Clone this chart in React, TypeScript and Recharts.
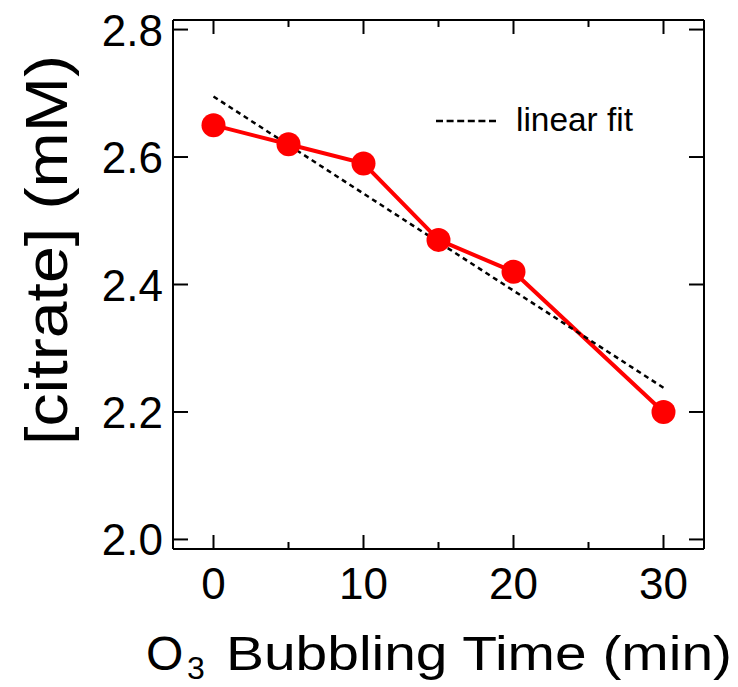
import { ComposedChart, Line, XAxis, YAxis } from 'recharts';

// measured points
const times = [0, 5, 10, 15, 20, 30];
const citrate = [2.65, 2.62, 2.59, 2.47, 2.42, 2.2];

// dashed fit line, read at its two ends
const fitTimes = [0, 30];
const fitValues = [2.695, 2.238];

const xTicks = [0, 5, 10, 15, 20, 25, 30];
const yTicks = [2.0, 2.2, 2.4, 2.6, 2.8];

const FONT = 'Liberation Sans, Arial, sans-serif';

const data = times.map((t, i) => ({ t, c: citrate[i] }));
const fitData = fitTimes.map((t, i) => ({ t, c: fitValues[i] }));

function BottomTick({ x, y, payload }: any) {
  const major = payload.value % 10 === 0;
  return (
    <g>
      <line x1={x} x2={x} y1={y} y2={y - (major ? 14 : 7)} stroke="#000" strokeWidth={2} />
      {major && (
        <text x={x} y={y + 50} textAnchor="middle" fontSize={44} fontFamily={FONT} fill="#000">
          {payload.value}
        </text>
      )}
    </g>
  );
}

function TopTick({ x, y, payload }: any) {
  const major = payload.value % 10 === 0;
  return <line x1={x} x2={x} y1={y} y2={y + (major ? 14 : 7)} stroke="#000" strokeWidth={2} />;
}

function LeftTick({ x, y, payload }: any) {
  return (
    <g>
      <line x1={x} x2={x + 15} y1={y} y2={y} stroke="#000" strokeWidth={2} />
      <text
        x={x - 10}
        y={y + 16}
        textAnchor="end"
        fontSize={44}
        fontFamily={FONT}
        fill="#000"
      >
        {payload.value.toFixed(1)}
      </text>
    </g>
  );
}

function RightTick({ x, y }: any) {
  return <line x1={x} x2={x - 15} y1={y} y2={y} stroke="#000" strokeWidth={2} />;
}

function Annotations() {
  return (
    <g fontFamily={FONT} fill="#000">
      {/* y title */}
      <text
        x={67}
        y={250}
        transform="rotate(-90, 67, 250)"
        textAnchor="middle"
        fontSize={60}
        textLength={390}
        lengthAdjust="spacingAndGlyphs"
      >
        [citrate] (mM)
      </text>
      {/* x title with subscript */}
      <text x={146} y={670} fontSize={48}>O</text>
      <text x={187} y={679} fontSize={32}>3</text>
      <text x={226} y={670} fontSize={48} textLength={506} lengthAdjust="spacingAndGlyphs">
        Bubbling Time (min)
      </text>
      {/* legend */}
      <line x1={436} x2={497} y1={121} y2={121} stroke="#000" strokeWidth={2.5} strokeDasharray="7 3.6" />
      <text x={516} y={131} fontSize={34} textLength={117} lengthAdjust="spacingAndGlyphs">
        linear fit
      </text>
    </g>
  );
}

export default function App() {
  return (
    <div style={{ position: 'absolute', left: 0, top: 0, background: '#fff' }}>
      <ComposedChart width={738} height={687} margin={{ top: 19, right: 33, bottom: 0, left: 0 }}>
        <XAxis
          type="number"
          dataKey="t"
          domain={[-2.7, 32.7]}
          ticks={xTicks}
          interval={0}
          allowDataOverflow
          height={138}
          tickSize={0}
          tickMargin={0}
          tickLine={false}
          axisLine={{ stroke: '#000', strokeWidth: 2 }}
          tick={<BottomTick />}
        />
        <XAxis
          xAxisId="top"
          orientation="top"
          type="number"
          dataKey="t"
          domain={[-2.7, 32.7]}
          ticks={xTicks}
          interval={0}
          allowDataOverflow
          height={1}
          tickSize={0}
          tickMargin={0}
          tickLine={false}
          axisLine={{ stroke: '#000', strokeWidth: 2 }}
          tick={<TopTick />}
        />
        <YAxis
          type="number"
          domain={[1.985, 2.815]}
          ticks={yTicks}
          interval={0}
          allowDataOverflow
          width={173}
          tickSize={0}
          tickMargin={0}
          tickLine={false}
          axisLine={{ stroke: '#000', strokeWidth: 2 }}
          tick={<LeftTick />}
        />
        <YAxis
          yAxisId="right"
          orientation="right"
          type="number"
          domain={[1.985, 2.815]}
          ticks={yTicks}
          interval={0}
          allowDataOverflow
          width={1}
          tickSize={0}
          tickMargin={0}
          tickLine={false}
          axisLine={{ stroke: '#000', strokeWidth: 2 }}
          tick={<RightTick />}
        />
        <Line
          data={data}
          dataKey="c"
          stroke="#ff0000"
          strokeWidth={4}
          dot={{ r: 12, fill: '#ff0000', stroke: 'none' }}
          isAnimationActive={false}
        />
        <Line
          data={fitData}
          dataKey="c"
          stroke="#000"
          strokeWidth={2.5}
          strokeDasharray="5 4"
          dot={false}
          isAnimationActive={false}
        />
        <Annotations />
      </ComposedChart>
    </div>
  );
}
